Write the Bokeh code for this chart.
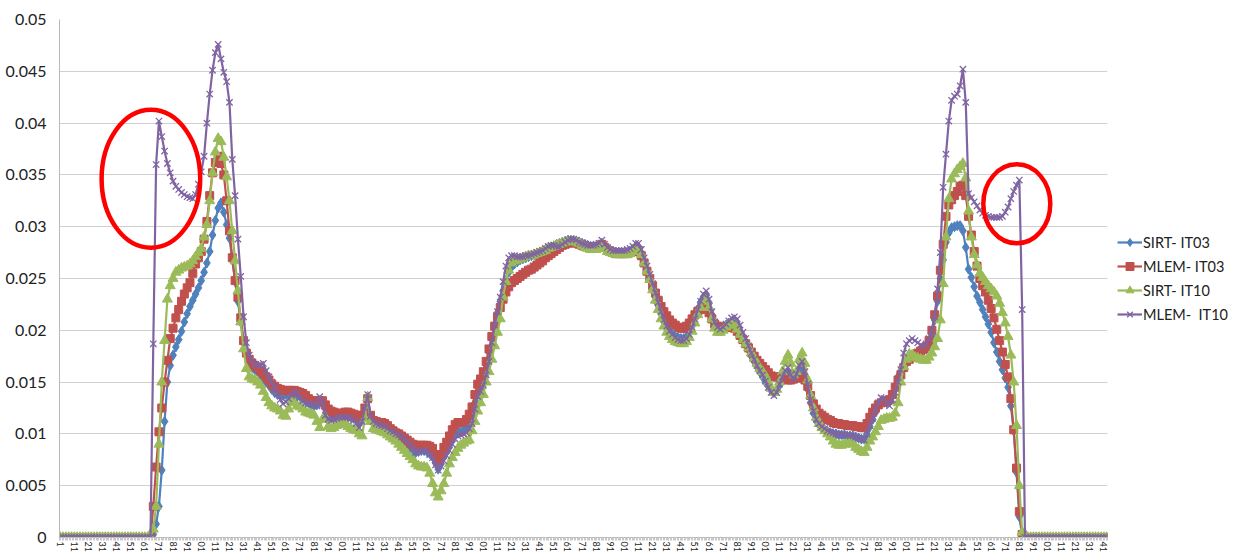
from bokeh.plotting import figure
from bokeh.models import Range1d, FixedTicker, Legend, LegendItem
from bokeh.embed import file_html
from bokeh.resources import INLINE

# ---------------- data ----------------
N_CATEGORIES = 743
# sampled category numbers (every second category)
categories = list(range(1, N_CATEGORIES + 1, 2))

# values in units of 1e-4
sirt_it03 = [0] * 33 + [
    3, 13, 30, 65, 112, 150, 166, 176, 184, 191,
    199, 208, 216, 223, 229, 235, 241, 248, 256, 265,
    276, 292, 306, 318, 323, 314, 302, 289, 268, 247,
    228, 208, 188, 176, 169, 164, 162, 160, 157, 153,
    150, 147, 143, 140, 138, 137, 137, 138, 139, 139,
    138, 137, 136, 134, 132, 130, 128, 127, 128, 130,
    131, 124, 119, 117, 116, 116, 116, 116, 117, 117,
    116, 115, 113, 110, 114, 124, 136, 117, 110, 108,
    107, 106, 105, 103, 101, 99, 97, 95, 93, 91,
    88, 85, 83, 82, 83, 84, 84, 83, 81, 78,
    72, 66, 71, 78, 84, 90, 95, 99, 101, 102,
    103, 106, 110, 118, 130, 140, 146, 154, 166, 179,
    192, 205, 217, 228, 238, 248, 256, 261, 264, 266,
    268, 269, 270, 271, 272, 273, 274, 275, 276, 278,
    279, 280, 281, 283, 284, 285, 286, 287, 287, 287,
    286, 285, 284, 283, 282, 281, 281, 281, 282, 284,
    281, 278, 277, 276, 275, 275, 275, 275, 275, 276,
    278, 281, 280, 274, 266, 258, 250, 241, 232, 224,
    216, 209, 203, 199, 196, 194, 193, 192, 192, 194,
    198, 204, 212, 220, 227, 232, 234, 226, 215, 207,
    203, 202, 203, 205, 207, 208, 207, 203, 197, 191,
    186, 181, 175, 170, 165, 160, 155, 150, 146, 142,
    140, 142, 147, 153, 158, 160, 157, 153, 156, 162,
    163, 156, 143, 130, 120, 113, 109, 106, 104, 102,
    101, 100, 100, 99, 99, 99, 98, 98, 98, 97,
    96, 95, 95, 100, 107, 114, 121, 127, 131, 131,
    130, 131, 137, 146, 155, 161, 165, 169, 172, 175,
    176, 177, 179, 180, 182, 185, 195, 210, 228, 250,
    268, 285, 294, 299, 300, 301, 301, 296, 280, 259,
    251, 242, 233, 227, 220, 213, 206, 198, 188, 179,
    170, 162, 154, 145, 127, 103, 63, 20, 2,
] + [0] * 30

mlem_it03 = [0] * 33 + [
    30, 68, 102, 125, 150, 171, 192, 202, 212, 220,
    228, 235, 241, 246, 255, 264, 270, 276, 288, 305,
    330, 352, 362, 368, 361, 350, 325, 296, 270, 248,
    232, 212, 190, 178, 172, 168, 166, 164, 161, 158,
    155, 152, 148, 146, 144, 143, 142, 142, 142, 142,
    142, 141, 140, 139, 137, 134, 132, 132, 132, 132,
    132, 128, 124, 122, 121, 120, 119, 120, 121, 121,
    120, 119, 118, 116, 118, 125, 134, 118, 113, 112,
    111, 111, 110, 108, 105, 103, 101, 100, 98, 96,
    94, 92, 90, 89, 89, 89, 89, 89, 88, 86,
    80, 74, 80, 87, 92, 98, 104, 109, 111, 111,
    111, 114, 119, 126, 138, 148, 153, 160, 170, 182,
    194, 204, 213, 222, 230, 237, 242, 246, 248, 250,
    252, 254, 256, 258, 259, 261, 263, 265, 267, 270,
    272, 274, 276, 278, 280, 282, 283, 284, 285, 285,
    284, 283, 282, 281, 281, 280, 280, 280, 281, 283,
    280, 277, 276, 275, 274, 274, 274, 274, 274, 275,
    276, 278, 277, 272, 265, 257, 250, 243, 236, 229,
    223, 218, 214, 210, 207, 205, 203, 202, 202, 204,
    207, 211, 215, 218, 220, 222, 222, 217, 211, 206,
    204, 203, 203, 203, 203, 203, 202, 199, 195, 191,
    187, 183, 179, 175, 171, 168, 165, 162, 159, 156,
    155, 155, 155, 154, 153, 152, 152, 153, 154, 155,
    154, 152, 146, 137, 129, 124, 120, 118, 116, 114,
    113, 111, 110, 110, 109, 109, 108, 108, 108, 107,
    107, 106, 106, 110, 116, 121, 125, 128, 130, 131,
    132, 133, 138, 145, 152, 157, 164, 170, 172, 174,
    176, 178, 180, 182, 184, 190, 200, 215, 233, 258,
    283, 310, 321, 326, 330, 334, 339, 340, 330, 310,
    292, 276, 262, 250, 243, 237, 229, 221, 212, 201,
    190, 179, 167, 155, 134, 104, 67, 25, 3,
] + [0] * 30

sirt_it10 = [0] * 33 + [
    8, 30, 90, 150, 190, 230, 243, 250, 256, 258,
    260, 261, 262, 264, 267, 271, 275, 279, 290, 302,
    325, 352, 372, 385, 382, 367, 348, 325, 296, 267,
    238, 208, 182, 163, 155, 153, 152, 150, 147, 141,
    135, 130, 127, 125, 124, 122, 118, 117, 124, 131,
    130, 127, 126, 124, 121, 120, 119, 118, 112, 106,
    114, 116, 107, 105, 106, 108, 110, 110, 109, 107,
    105, 104, 103, 100, 98, 115, 135, 112, 105, 104,
    103, 102, 101, 99, 97, 95, 93, 90, 87, 84,
    81, 78, 75, 71, 69, 68, 68, 67, 62, 52,
    43, 39, 45, 52, 62, 71, 77, 82, 86, 89,
    91, 93, 94, 103, 112, 122, 130, 138, 150, 160,
    172, 185, 198, 211, 232, 247, 258, 265, 267, 268,
    269, 270, 271, 272, 272, 273, 274, 275, 276, 277,
    279, 280, 281, 282, 283, 284, 285, 286, 286, 286,
    285, 284, 282, 280, 279, 278, 278, 278, 279, 281,
    279, 276, 275, 274, 273, 273, 273, 273, 273, 274,
    276, 279, 279, 273, 265, 257, 249, 239, 229, 220,
    211, 204, 198, 194, 191, 189, 188, 187, 187, 189,
    193, 199, 207, 215, 222, 228, 229, 222, 211, 202,
    198, 198, 200, 203, 205, 206, 205, 201, 196, 191,
    187, 183, 178, 173, 168, 163, 160, 156, 150, 144,
    140, 143, 150, 160, 170, 176, 168, 157, 160, 172,
    178, 168, 152, 137, 125, 116, 110, 106, 103, 100,
    97, 93, 90, 89, 89, 90, 91, 92, 90, 87,
    85, 83, 82, 87, 93, 97, 102, 107, 113, 114,
    115, 115, 116, 120, 130, 150, 165, 172, 177, 176,
    174, 173, 172, 171, 171, 174, 178, 184, 192, 210,
    245, 290, 327, 346, 351, 355, 358, 361, 347, 315,
    290, 273, 263, 255, 251, 247, 243, 240, 237, 233,
    226, 217, 207, 194, 176, 150, 108, 50, 5,
] + [0] * 30

mlem_it10 = [0] * 33 + [
    187, 360, 402, 387, 373, 361, 352, 344, 339, 336,
    333, 331, 329, 328, 327, 331, 341, 353, 368, 400,
    428, 451, 468, 476, 462, 449, 440, 420, 365, 330,
    288, 252, 213, 188, 176, 170, 167, 166, 167, 168,
    161, 155, 150, 144, 139, 133, 129, 131, 134, 137,
    141, 139, 135, 132, 130, 129, 129, 128, 127, 136,
    130, 118, 114, 113, 114, 115, 116, 116, 116, 116,
    115, 113, 110, 106, 112, 125, 138, 117, 112, 110,
    109, 108, 107, 105, 103, 102, 100, 99, 97, 95,
    93, 90, 86, 82, 83, 84, 84, 83, 80, 77,
    70, 65, 69, 74, 79, 84, 90, 95, 98, 99,
    100, 101, 105, 110, 124, 136, 141, 147, 157, 170,
    188, 205, 218, 232, 247, 262, 270, 272, 272, 271,
    271, 271, 272, 272, 273, 274, 275, 276, 277, 279,
    281, 282, 282, 281, 281, 283, 285, 287, 288, 288,
    287, 285, 284, 283, 282, 282, 282, 283, 284, 287,
    283, 280, 278, 277, 277, 277, 277, 277, 278, 279,
    281, 284, 284, 278, 270, 262, 254, 245, 236, 227,
    218, 210, 204, 199, 196, 193, 191, 190, 190, 192,
    196, 203, 211, 220, 228, 235, 238, 230, 218, 208,
    203, 201, 203, 206, 209, 212, 213, 211, 205, 198,
    192, 185, 178, 172, 166, 161, 157, 151, 145, 140,
    137, 140, 148, 155, 161, 164, 157, 152, 158, 166,
    170, 160, 148, 133, 122, 114, 110, 107, 105, 103,
    102, 101, 100, 100, 99, 99, 99, 98, 98, 97,
    96, 95, 94, 100, 108, 115, 123, 130, 135, 134,
    130, 127, 133, 140, 150, 162, 178, 187, 190, 192,
    190, 188, 186, 184, 187, 192, 200, 213, 240, 275,
    338, 370, 402, 422, 426, 428, 436, 452, 420, 332,
    328, 324, 320, 316, 313, 311, 310, 309, 309, 309,
    309, 310, 314, 319, 327, 334, 340, 345, 220,
] + [0] * 30

VALUE_UNIT = 1e-4

series_names = ["SIRT- IT03", "MLEM- IT03", "SIRT- IT10", "MLEM-  IT10"]
series_values = [sirt_it03, mlem_it03, sirt_it10, mlem_it10]
series_colors = ["#4F81BD", "#C0504D", "#9BBB59", "#8064A2"]
series_markers = ["diamond", "square", "triangle", "x"]

x_tick_positions = list(range(1, N_CATEGORIES, 10))
x_tick_labels = [str(c)[-2:] if c >= 100 else str(c) for c in x_tick_positions]
y_ticks = [0, 0.005, 0.01, 0.015, 0.02, 0.025, 0.03, 0.035, 0.04, 0.045, 0.05]
y_tick_labels = ["0", "0.005", "0.01", "0.015", "0.02", "0.025", "0.03",
                 "0.035", "0.04", "0.045", "0.05"]

# red highlight ellipses (annotations): centre category, centre value, width (categories), height (value)
highlight_x = [65.3, 679.2]
highlight_y = [0.03463, 0.03221]
highlight_w = [69.9, 47.5]
highlight_h = [0.01332, 0.00763]

# ---------------- figure ----------------
FONT = "Lato"
p = figure(frame_width=1048, frame_height=518,
           x_range=Range1d(0.5, N_CATEGORIES + 0.5), y_range=Range1d(0, 0.05),
           output_backend="svg", toolbar_location=None,
           min_border_left=59, min_border_top=19, min_border_right=126,
           min_border_bottom=2)
p.outline_line_color = None
p.background_fill_color = "white"
p.border_fill_color = "white"

p.xgrid.visible = False
p.ygrid.grid_line_color = "#d0d0d0"
p.ygrid.grid_line_width = 1

p.yaxis.ticker = FixedTicker(ticks=y_ticks)
p.yaxis.major_label_overrides = {t: l for t, l in zip(y_ticks, y_tick_labels)}
p.yaxis.axis_line_color = "#b8b8b8"
p.yaxis.major_tick_line_color = None
p.yaxis.minor_tick_line_color = None
p.yaxis.major_tick_out = 0
p.yaxis.major_tick_in = 0
p.yaxis.minor_tick_out = 0
p.yaxis.minor_tick_in = 0
p.yaxis.major_label_standoff = 13
p.yaxis.major_label_text_font = FONT
p.yaxis.major_label_text_font_size = "16px"
p.yaxis.major_label_text_color = "#222222"

p.xaxis.ticker = FixedTicker(ticks=x_tick_positions,
                             minor_ticks=[c + 0.5 for c in range(0, N_CATEGORIES + 1)])
p.xaxis.major_label_overrides = {t: l for t, l in zip(x_tick_positions, x_tick_labels)}
p.xaxis.axis_line_color = "#b8b8b8"
p.xaxis.major_tick_out = 0
p.xaxis.major_tick_in = 0
p.xaxis.major_tick_line_color = None
p.xaxis.minor_tick_out = 3
p.xaxis.minor_tick_in = 0
p.xaxis.minor_tick_line_color = "#c8c8c8"
p.xaxis.major_label_orientation = "vertical"
p.xaxis.major_label_standoff = 1
p.xaxis.major_label_text_font = FONT
p.xaxis.major_label_text_font_size = "9px"
p.xaxis.major_label_text_color = "#222222"

marker_sizes = {"diamond": 10, "square": 8, "triangle": 10, "x": 9}
items = []
for name, vals, color, marker in zip(series_names, series_values, series_colors, series_markers):
    ys = [v * VALUE_UNIT for v in vals]
    xs = categories[:len(ys)]
    ln = p.line(xs, ys, line_color=color, line_width=2.2)
    if marker == "x":
        sc = p.scatter(xs, ys, marker=marker, size=marker_sizes[marker],
                       line_color=color, line_width=1.3)
    else:
        sc = p.scatter(xs, ys, marker=marker, size=marker_sizes[marker],
                       fill_color=color, line_color=color)
    items.append(LegendItem(label=name, renderers=[ln, sc]))

p.ellipse(x=highlight_x, y=highlight_y, width=highlight_w, height=highlight_h,
          fill_color=None, line_color="#FF0000", line_width=4.5)

legend = Legend(items=items, location="center_left", orientation="vertical",
                border_line_color=None, background_fill_alpha=0,
                glyph_width=25, glyph_height=20, label_height=20, spacing=4,
                padding=0, margin=10, label_standoff=1,
                label_text_font=FONT, label_text_font_size="14.5px",
                label_text_color="#222222")
p.add_layout(legend, "right")

open("out.html", "w").write(file_html(p, INLINE))
